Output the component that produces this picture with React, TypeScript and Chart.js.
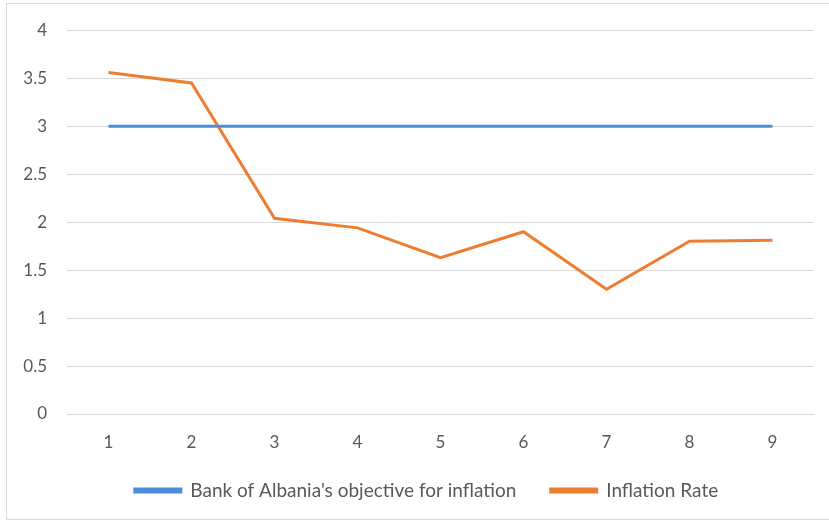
import React, { useEffect, useRef } from "react";
import { Chart, registerables } from "chart.js";

Chart.register(...registerables);

const categories = ["1", "2", "3", "4", "5", "6", "7", "8", "9"];
const objectiveValues = [3, 3, 3, 3, 3, 3, 3, 3, 3];
const inflationValues = [3.56, 3.45, 2.04, 1.94, 1.63, 1.9, 1.3, 1.8, 1.81];
const seriesNames = ["Bank of Albania's objective for inflation", "Inflation Rate"];

const legendShift = {
  id: "legendShift",
  afterLayout(chart: any) {
    const lg = chart.legend;
    if (lg) {
      lg.left += 16;
      lg.right += 16;
    }
  },
};

export default function App() {
  const ref = useRef<HTMLCanvasElement | null>(null);
  useEffect(() => {
    if (!ref.current) return;
    const font = { family: "Lato, 'Open Sans', sans-serif", size: 17 };
    const chart = new Chart(ref.current, {
      type: "line",
      data: {
        labels: categories,
        datasets: [
          {
            label: seriesNames[0],
            data: objectiveValues,
            borderColor: "#4a8fd6",
            backgroundColor: "#4a8fd6",
            borderWidth: 3,
            pointRadius: 0,
            tension: 0,
          },
          {
            label: seriesNames[1],
            data: inflationValues,
            borderColor: "#ed7d31",
            backgroundColor: "#ed7d31",
            borderWidth: 3,
            pointRadius: 0,
            tension: 0,
          },
        ],
      },
      plugins: [legendShift],
      options: {
        responsive: false,
        animation: false,
        layout: { padding: { left: 7, top: 30, right: 15, bottom: 11 } },
        plugins: {
          tooltip: { enabled: false },
          legend: {
            position: "bottom",
            labels: {
              boxWidth: 46,
              boxHeight: 3,
              padding: 10,
              color: "#595959",
              font: { family: font.family, size: 19 },
              generateLabels: (c: any) => {
                const items = Chart.defaults.plugins.legend.labels.generateLabels(c);
                items.forEach((it: any, i: number) => {
                  if (i < items.length - 1) it.text = it.text + "     ";
                });
                return items;
              },
            },
          },
        },
        scales: {
          x: {
            offset: true,
            grid: { display: false, drawTicks: false },
            border: { display: true, color: "#d9d9d9", width: 1 },
            ticks: { color: "#595959", font, padding: 18 },
            afterFit: (s: any) => {
              s.height = 57;
            },
          },
          y: {
            min: 0,
            max: 4,
            ticks: {
              stepSize: 0.5,
              color: "#595959",
              font,
              padding: 20,
              callback: (v: any) => String(Number(v)),
            },
            grid: { color: "#d9d9d9", lineWidth: 1, drawTicks: false },
            border: { display: false },
            afterFit: (s: any) => {
              s.width = 60;
            },
          },
        },
      },
    });
    return () => chart.destroy();
  }, []);
  return (
    <div style={{ position: "fixed", left: 0, top: 0, width: 829, height: 521, background: "#fff", overflow: "hidden" }}>
      <div style={{ position: "absolute", left: 6, top: 3, width: 840, height: 515, border: "1px solid #d9d9d9" }} />
      <canvas ref={ref} width={829} height={521} style={{ position: "absolute", left: 0, top: 0 }} />
    </div>
  );
}
